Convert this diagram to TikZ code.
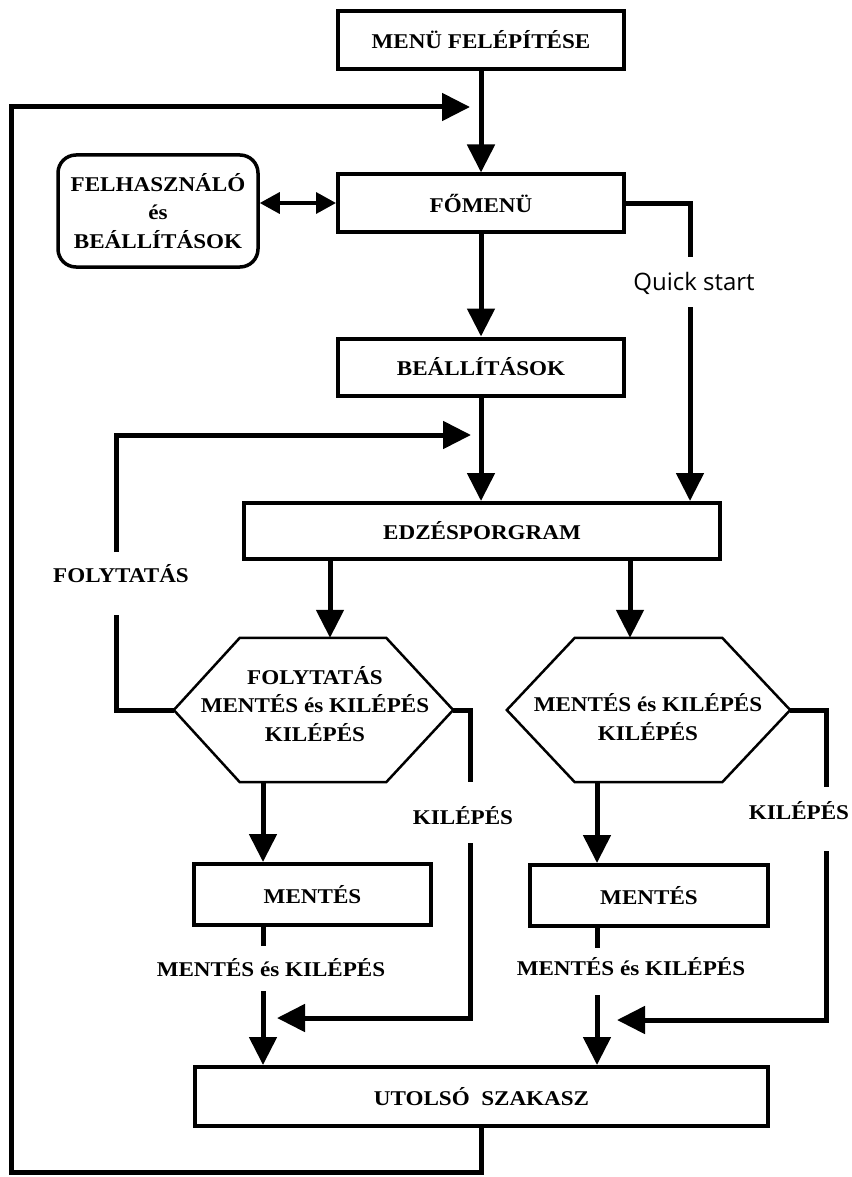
\documentclass[tikz,border=0pt]{standalone}
\usepackage{fontspec}
\usetikzlibrary{arrows.meta}
\newfontfamily\lblfont[FakeStretch=1.1]{Liberation Serif}
\newfontfamily\qsfont{Open Sans}
\newcommand\mylbl{\lblfont\bfseries\fontsize{21}{28.5}\selectfont}
\tikzset{
  box/.style={draw, rectangle, line width=4pt, inner sep=0pt, font=\mylbl},
  txt/.style={inner sep=0pt, font=\mylbl, align=center},
  hexgeo/.style={draw=none, rectangle, inner sep=0pt},
  hexline/.style={line width=2.5pt, line join=miter},
  conn/.style={line width=5pt, line join=miter},
  arr/.style={conn, -{Triangle[width=27pt,length=28pt]}},
  darr/.style={line width=3.5pt, {Triangle[width=21pt,length=20pt]}-{Triangle[width=21pt,length=20pt]}},
}
\begin{document}
\begin{tikzpicture}[x=1pt,y=-1pt]
\useasboundingbox (0,0) rectangle (851,1177);
\fill[white] (0,0) rectangle (851,1177);

% boxes
\node[box, minimum width=286pt, minimum height=58pt] (menu) at (481,40) {MENÜ FELÉPÍTÉSE};
\node[box, minimum width=286pt, minimum height=57pt] (fomenu) at (481,203) {FŐMENÜ};
\node[box, line width=3.5pt, rounded corners=18pt, minimum width=200pt, minimum height=112pt, align=center] (felh) at (158,211) {FELHASZNÁLÓ\\és\\BEÁLLÍTÁSOK};
\node[box, minimum width=286pt, minimum height=57pt] (beall) at (481,367) {BEÁLLÍTÁSOK};
\node[box, minimum width=476pt, minimum height=56pt] (edzes) at (482,531) {EDZÉSPORGRAM};
\node[box, minimum width=237pt, minimum height=61pt] (ment1) at (312.5,894.5) {MENTÉS};
\node[box, minimum width=238pt, minimum height=61pt] (ment2) at (649,895.5) {MENTÉS};
\node[box, minimum width=573pt, minimum height=59pt] (utolso) at (481.5,1096.5) {UTOLSÓ\ \ SZAKASZ};

% hexagons
\node[hexgeo, minimum width=146pt, minimum height=144pt] (hex1) at (313,710) {};
\node[hexgeo, minimum width=147pt, minimum height=144pt] (hex2) at (648.5,710) {};
\coordinate (h1L) at ([xshift=-66pt]hex1.west);
\coordinate (h1R) at ([xshift=67pt]hex1.east);
\coordinate (h2L) at ([xshift=-68pt]hex2.west);
\coordinate (h2R) at ([xshift=68pt]hex2.east);
\draw[hexline] (hex1.north west) -- (hex1.north east) -- (h1R) -- (hex1.south east) -- (hex1.south west) -- (h1L) -- cycle;
\draw[hexline] (hex2.north west) -- (hex2.north east) -- (h2R) -- (hex2.south east) -- (hex2.south west) -- (h2L) -- cycle;
\node[txt] (h1t) at (315,704) {FOLYTATÁS\\MENTÉS és KILÉPÉS\\KILÉPÉS};
\node[txt] (h2t) at (648,717) {MENTÉS és KILÉPÉS\\KILÉPÉS};

% labels
\node[inner sep=0pt, font=\qsfont\fontsize{24}{28}\selectfont] (qs) at (694,283) {Quick start};
\node[txt] (folyt) at (121,574) {FOLYTATÁS};
\node[txt] (kil1) at (463,816) {KILÉPÉS};
\node[txt] (kil2) at (799,811) {KILÉPÉS};
\node[txt] (mk1) at (271,968) {MENTÉS és KILÉPÉS};
\node[txt] (mk2) at (631,967) {MENTÉS és KILÉPÉS};

% connectors
\draw[arr] (menu.south) -- (fomenu.north);
\coordinate (loopbl) at (11,1172);
\coordinate (loopend) at (470,107);
\draw[arr] (utolso.south) |- (loopbl) |- (loopend);

\draw[darr] (felh.east |- fomenu.west) -- (fomenu.west);

\coordinate (qsa) at (690,257);
\coordinate (qsb) at (690,307);
\draw[conn] (fomenu.east) -| (qsa);
\draw[arr] (qsb) -- (qsb |- edzes.north);

\draw[arr] (fomenu.south) -- (beall.north);
\draw[arr] (beall.south) -- (beall.south |- edzes.north);

\coordinate (fa) at (116,615);
\coordinate (fb) at (116,552);
\coordinate (fe) at (471,435);
\draw[conn] (h1L) -| (fa);
\draw[arr] (fb) |- (fe);

\coordinate (h1in) at (330,0);
\coordinate (h2in) at (630,0);
\draw[arr] (h1in |- edzes.south) -- (h1in |- hex1.north);
\draw[arr] (h2in |- edzes.south) -- (h2in |- hex2.north);

\coordinate (k1a) at (470,782);
\coordinate (k1b) at (470,843);
\coordinate (k1e) at (277,1018);
\draw[conn] (h1R) -| (k1a);
\draw[arr] (k1b) |- (k1e);

\coordinate (k2a) at (826,787);
\coordinate (k2b) at (826,851);
\coordinate (k2e) at (617,1020);
\draw[conn] (h2R) -| (k2a);
\draw[arr] (k2b) |- (k2e);

\coordinate (c1) at (263,0);
\coordinate (c1a) at (263,946);
\coordinate (c1b) at (263,991);
\draw[arr] (c1 |- hex1.south) -- (c1 |- ment1.north);
\draw[conn] (c1 |- ment1.south) -- (c1a);
\draw[arr] (c1b) -- (c1 |- utolso.north);

\coordinate (c2) at (597,0);
\coordinate (c2a) at (597,948);
\coordinate (c2b) at (597,995);
\draw[arr] (c2 |- hex2.south) -- (c2 |- ment2.north);
\draw[conn] (c2 |- ment2.south) -- (c2a);
\draw[arr] (c2b) -- (c2 |- utolso.north);
\end{tikzpicture}
\end{document}
